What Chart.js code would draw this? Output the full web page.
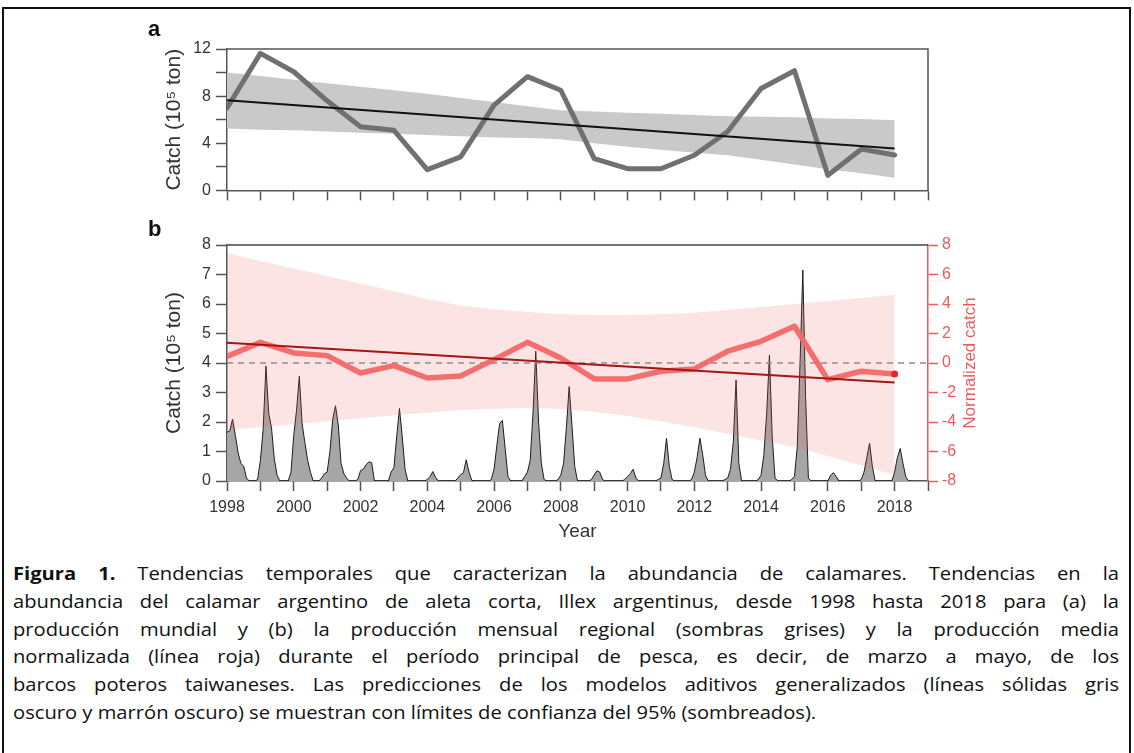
<!DOCTYPE html>
<html lang="es">
<head>
<meta charset="utf-8">
<title>Illex argentinus — tendencias de captura</title>
<script src="https://cdn.jsdelivr.net/npm/chart.js@4/dist/chart.umd.min.js"></script>
<style>
  html, body { margin: 0; padding: 0; background: #fff; }
  body { width: 1134px; height: 753px; position: relative; overflow: hidden;
         font-family: "Liberation Sans", Arial, sans-serif; }
  #frame { position: absolute; left: 2px; top: 7px; width: 1129px; height: 800px;
           border: 2px solid #111; box-sizing: border-box; }
  canvas { position: absolute; left: 0; }
  #chartA { top: 0; }
  #chartB { top: 205px; }
  .panel { position: absolute; left: 148px; font-weight: bold; font-size: 22px; color: #111;
           line-height: 1; }
  #caption { position: absolute; left: 13px; top: 560px; width: 1106px; color: #111;
             font-family: "Open Sans", "Noto Sans", "Liberation Sans", sans-serif;
             font-size: 18px; line-height: 27.8px; }
  #caption .ln { text-align: justify; text-align-last: justify; white-space: nowrap;
                 transform-origin: 0 0; }
  #caption .ln.last { text-align: left; text-align-last: left; }
  #caption.measure .ln { text-align: left; text-align-last: left; }
</style>
</head>
<body>
<div id="frame"></div>
<canvas id="chartA" width="1134" height="205"></canvas>
<canvas id="chartB" width="1134" height="345"></canvas>
<div class="panel" style="top:18px">a</div>
<div class="panel" style="top:218px">b</div>
<div id="caption">
  <div class="ln"><span class="t"><b>Figura 1.</b> Tendencias temporales que caracterizan la abundancia de calamares. Tendencias en la</span></div>
  <div class="ln"><span class="t">abundancia del calamar argentino de aleta corta, Illex argentinus, desde 1998 hasta 2018 para (a) la</span></div>
  <div class="ln"><span class="t">producción mundial y (b) la producción mensual regional (sombras grises) y la producción media</span></div>
  <div class="ln"><span class="t">normalizada (línea roja) durante el período principal de pesca, es decir, de marzo a mayo, de los</span></div>
  <div class="ln"><span class="t">barcos poteros taiwaneses. Las predicciones de los modelos aditivos generalizados (líneas sólidas gris</span></div>
  <div class="ln last"><span class="t">oscuro y marrón oscuro) se muestran con límites de confianza del 95% (sombreados).</span></div>
</div>
<script>
// ---------- data ----------
const years = [1998, 1999, 2000, 2001, 2002, 2003, 2004, 2005, 2006, 2007, 2008,
               2009, 2010, 2011, 2012, 2013, 2014, 2015, 2016, 2017, 2018];
const yearTickLabels = [1998, 2000, 2002, 2004, 2006, 2008, 2010, 2012, 2014, 2016, 2018];
const catchTickLabels = [0, 4, 8, 12];

// (a) world catch, 10^5 t
const worldCatch = [7.0, 11.63, 10.07, 7.6, 5.4, 5.1, 1.76, 2.84, 7.23, 9.65, 8.5,
                    2.7, 1.84, 1.84, 2.98, 5.0, 8.65, 10.16, 1.28, 3.5, 3.0];
// GAM fit for (a): straight trend and its 95% band
const worldTrendYears = [1998, 2018];
const worldTrend = [7.66, 3.55];
const worldFitUpper = [10.0, 9.7, 9.4, 9.1, 8.8, 8.5, 8.2, 7.85, 7.5, 7.15, 6.8,
                       6.7, 6.6, 6.5, 6.4, 6.3, 6.25, 6.2, 6.1, 6.05, 5.96];
const worldFitLower = [5.25, 5.15, 5.1, 5.0, 4.9, 4.8, 4.7, 4.6, 4.5, 4.45, 4.35,
                       4.0, 3.7, 3.45, 3.2, 2.98, 2.6, 2.2, 1.8, 1.45, 1.08];

// (b) regional monthly catch, 10^5 t (Jan..Dec of each year, from 1998)
const monthlyStartYear = 1998;
const monthlyCatch = [
  1.65, 1.7, 2.1, 1.55, 0.95, 0.6, 0.5, 0.1, 0, 0, 0, 0.05,      // 1998
  0.7, 1.75, 3.9, 2.3, 1.8, 0.75, 0.2, 0, 0, 0, 0, 0.3,          // 1999
  1.55, 2.4, 3.55, 1.95, 1.3, 0.7, 0.3, 0, 0, 0, 0.1, 0.25,      // 2000
  0.3, 1.0, 2.1, 2.55, 1.9, 0.6, 0.25, 0.1, 0, 0, 0, 0.05,       // 2001
  0.35, 0.4, 0.55, 0.65, 0.62, 0, 0, 0, 0, 0, 0, 0.3,            // 2002
  0.45, 1.5, 2.46, 1.5, 0.4, 0, 0, 0, 0, 0, 0, 0,                // 2003
  0.05, 0.15, 0.32, 0.12, 0, 0, 0, 0, 0, 0, 0, 0.1,              // 2004
  0.22, 0.28, 0.72, 0.3, 0.02, 0, 0, 0, 0, 0, 0, 0.05,           // 2005
  0.4, 1.2, 1.95, 2.05, 1.1, 0.15, 0, 0, 0, 0, 0, 0.15,          // 2006
  0.3, 0.7, 2.3, 4.4, 2.0, 0.6, 0.05, 0, 0, 0, 0, 0.05,          // 2007
  0.2, 0.6, 1.8, 3.2, 1.9, 0.5, 0, 0, 0, 0, 0, 0.05,             // 2008
  0.2, 0.35, 0.3, 0.05, 0, 0, 0, 0, 0, 0, 0, 0.05,               // 2009
  0.15, 0.25, 0.4, 0.1, 0, 0, 0, 0, 0, 0, 0, 0.05,               // 2010
  0.1, 0.6, 1.45, 0.5, 0.05, 0, 0, 0, 0, 0, 0, 0.05,             // 2011
  0.3, 0.8, 1.45, 0.9, 0.2, 0, 0, 0, 0, 0, 0, 0.05,              // 2012
  0.1, 0.4, 1.3, 3.42, 0.6, 0, 0, 0, 0, 0, 0, 0.05,              // 2013
  0.2, 0.9, 2.3, 4.27, 1.5, 0.1, 0, 0, 0, 0, 0, 0.05,            // 2014
  0.15, 1.16, 4.0, 7.15, 2.86, 0.1, 0, 0, 0, 0, 0, 0,            // 2015
  0, 0.2, 0.28, 0.15, 0, 0, 0, 0, 0, 0, 0, 0,                    // 2016
  0.05, 0.3, 0.8, 1.28, 0.5, 0, 0, 0, 0, 0, 0, 0,                // 2017
  0.3, 0.8, 1.1, 0.6, 0.15, 0, 0                                 // 2018
];

// (b) normalized mean catch (March–May) and its GAM fit
const normCatch = [0.45, 1.4, 0.68, 0.5, -0.68, -0.18, -1.02, -0.88, 0.23, 1.4, 0.34,
                   -1.08, -1.08, -0.56, -0.4, 0.8, 1.47, 2.49, -1.13, -0.56, -0.75];
const normTrendYears = [1998, 2018];
const normTrend = [1.38, -1.32];
const normBandUpper = [7.44, 6.92, 6.41, 5.89, 5.37, 4.86, 4.34, 3.9, 3.65, 3.45, 3.3,
                       3.25, 3.25, 3.3, 3.4, 3.6, 3.8, 4.0, 4.2, 4.4, 4.62];
const normBandLower = [-4.54, -4.35, -4.15, -3.95, -3.75, -3.55, -3.35, -3.19, -3.1, -3.05, -3.1,
                       -3.3, -3.6, -3.95, -4.35, -4.8, -5.25, -5.7, -6.3, -6.95, -7.6];
const zeroLineYears = [1998, 2019];
const zeroLine = [0, 0];

// ---------- helpers ----------
const toPoints = (xs, ys) => xs.map((x, i) => ({ x, y: ys[i] }));
const monthlyPoints = monthlyCatch.map((v, i) => ({ x: monthlyStartYear + i / 12, y: v }));

const FONT = '"Liberation Sans", Arial, sans-serif';
const AXIS = '#555';
const TXT = '#333';
const RED_AXIS = '#ee5a5a';
const NONE = 'rgba(0,0,0,0)';

// top edge of the plot box (and right edge where asked), plus a bottom-to-top right-hand title
const frameLines = {
  id: 'frameLines',
  afterDraw(chart, args, opts) {
    const { ctx, chartArea: a } = chart;
    ctx.save();
    ctx.strokeStyle = opts.color || AXIS;
    ctx.lineWidth = 1.5;
    ctx.beginPath();
    ctx.moveTo(a.left, a.top);
    ctx.lineTo(a.right, a.top);
    if (opts.right) ctx.lineTo(a.right, a.bottom);
    ctx.stroke();
    if (opts.rightTitle) {
      ctx.translate(opts.rightTitleX, (a.top + a.bottom) / 2);
      ctx.rotate(-Math.PI / 2);
      ctx.fillStyle = opts.rightTitleColor;
      ctx.font = '17px ' + FONT;
      ctx.textAlign = 'center';
      ctx.textBaseline = 'middle';
      ctx.fillText(opts.rightTitle, 0, 0);
    }
    ctx.restore();
  }
};

function yearAxis(withLabels, height) {
  return {
    type: 'linear', min: 1998, max: 2019,
    ticks: {
      stepSize: 1, autoSkip: false, maxRotation: 0, minRotation: 0,
      padding: withLabels ? 7 : 0,
      font: { size: 16, family: FONT }, color: TXT,
      callback: v => (withLabels && yearTickLabels.includes(v)) ? String(v) : ''
    },
    grid: { drawOnChartArea: false, drawTicks: true, tickLength: 10, tickColor: AXIS, tickWidth: 1.5 },
    border: { display: true, color: AXIS, width: 1.5 },
    title: withLabels
      ? { display: true, text: 'Year', font: { size: 19, family: FONT }, color: TXT, padding: 0 }
      : { display: false },
    afterFit: s => { s.height = height; }
  };
}

const catchTitle = { display: true, text: 'Catch (10⁵ ton)', font: { size: 21, family: FONT },
                     color: TXT, padding: 0 };

// ---------- panel a ----------
new Chart(document.getElementById('chartA'), {
  type: 'line',
  data: {
    datasets: [
      { data: toPoints(worldTrendYears, worldTrend), borderColor: '#111', borderWidth: 2,
        pointRadius: 0, order: 0 },
      { data: toPoints(years, worldCatch), borderColor: '#707070', borderWidth: 5,
        borderJoinStyle: 'round', borderCapStyle: 'round', pointRadius: 0, order: 1 },
      { data: toPoints(years, worldFitUpper), borderColor: NONE, borderWidth: 1, pointRadius: 0,
        fill: 3, backgroundColor: '#c9c9c9', order: 2 },
      { data: toPoints(years, worldFitLower), borderColor: NONE, borderWidth: 1, pointRadius: 0,
        fill: false, order: 3 }
    ]
  },
  options: {
    responsive: false, animation: false, events: [],
    layout: { padding: { left: 162, right: 206, top: 49, bottom: 2 } },
    plugins: { legend: { display: false }, tooltip: { enabled: false },
               frameLines: { right: true, color: AXIS } },
    scales: {
      x: yearAxis(false, 12),
      y: {
        min: 0, max: 12,
        ticks: { stepSize: 2, padding: 5, font: { size: 16, family: FONT }, color: TXT,
                 callback: v => catchTickLabels.includes(v) ? String(v) : '' },
        grid: { drawOnChartArea: false, tickLength: 11, tickColor: AXIS, tickWidth: 1.5 },
        border: { color: AXIS, width: 1.5 },
        title: catchTitle,
        afterFit: s => { s.width = 65; }
      }
    }
  },
  plugins: [frameLines]
});

// ---------- panel b ----------
new Chart(document.getElementById('chartB'), {
  type: 'line',
  data: {
    datasets: [
      { data: toPoints(normTrendYears, normTrend), yAxisID: 'y2', borderColor: '#a51515',
        borderWidth: 2, pointRadius: 0, order: 0 },
      { data: toPoints(years, normCatch), yAxisID: 'y2', borderColor: 'rgba(243,104,104,0.95)',
        borderWidth: 5.5, borderJoinStyle: 'round', borderCapStyle: 'round',
        pointRadius: ctx => ctx.dataIndex === normCatch.length - 1 ? 3.5 : 0,
        pointBackgroundColor: '#e02a2a', pointBorderWidth: 0, order: 1 },
      { data: toPoints(zeroLineYears, zeroLine), yAxisID: 'y2', borderColor: '#8c8c8c',
        borderWidth: 1.5, borderDash: [6, 5], pointRadius: 0, order: 2 },
      { data: toPoints(years, normBandUpper), yAxisID: 'y2', borderColor: NONE, borderWidth: 1,
        pointRadius: 0, fill: 4, backgroundColor: 'rgba(245,95,95,0.17)', order: 3 },
      { data: toPoints(years, normBandLower), yAxisID: 'y2', borderColor: NONE, borderWidth: 1,
        pointRadius: 0, fill: false, order: 4 },
      { data: monthlyPoints, yAxisID: 'y', borderColor: '#1c1c1c', borderWidth: 1,
        pointRadius: 0, fill: 'origin', backgroundColor: '#a6a6a6', order: 5 }
    ]
  },
  options: {
    responsive: false, animation: false, events: [],
    layout: { padding: { left: 162, right: 156, top: 40, bottom: 7 } },
    plugins: { legend: { display: false }, tooltip: { enabled: false },
               frameLines: { right: false, color: '#444', rightTitle: 'Normalized catch',
                             rightTitleX: 970, rightTitleColor: RED_AXIS } },
    scales: {
      x: yearAxis(true, 62),
      y: {
        position: 'left', min: 0, max: 8,
        ticks: { stepSize: 1, padding: 5, font: { size: 16, family: FONT }, color: TXT },
        grid: { drawOnChartArea: false, tickLength: 11, tickColor: AXIS, tickWidth: 1.5 },
        border: { color: AXIS, width: 1.5 },
        title: catchTitle,
        afterFit: s => { s.width = 65; }
      },
      y2: {
        position: 'right', min: -8, max: 8,
        ticks: { stepSize: 2, padding: 4, font: { size: 16, family: FONT }, color: RED_AXIS },
        grid: { drawOnChartArea: false, tickLength: 10, tickColor: RED_AXIS, tickWidth: 1.5 },
        border: { color: RED_AXIS, width: 1.5 },
        afterFit: s => { s.width = 50; }
      }
    }
  },
  plugins: [frameLines]
});

// ---------- caption: slight horizontal widening so the closing line runs to ~818px ----------
(function fitCaption() {
  const colW = 1106;
  const cap = document.getElementById('caption');
  cap.classList.add('measure');
  const lines = [...cap.querySelectorAll('.ln')];
  const widths = lines.map(l => l.querySelector('.t').getBoundingClientRect().width);
  const lastW = widths[widths.length - 1];
  const maxW = Math.max(...widths.slice(0, -1));
  const sx = Math.max(1, Math.min(1.12, 805 / lastW, 1090 / maxW));
  lines.forEach(l => {
    l.style.width = (colW / sx).toFixed(1) + 'px';
    l.style.transform = `scaleX(${sx.toFixed(4)})`;
  });
  cap.classList.remove('measure');
})();
</script>
</body>
</html>
